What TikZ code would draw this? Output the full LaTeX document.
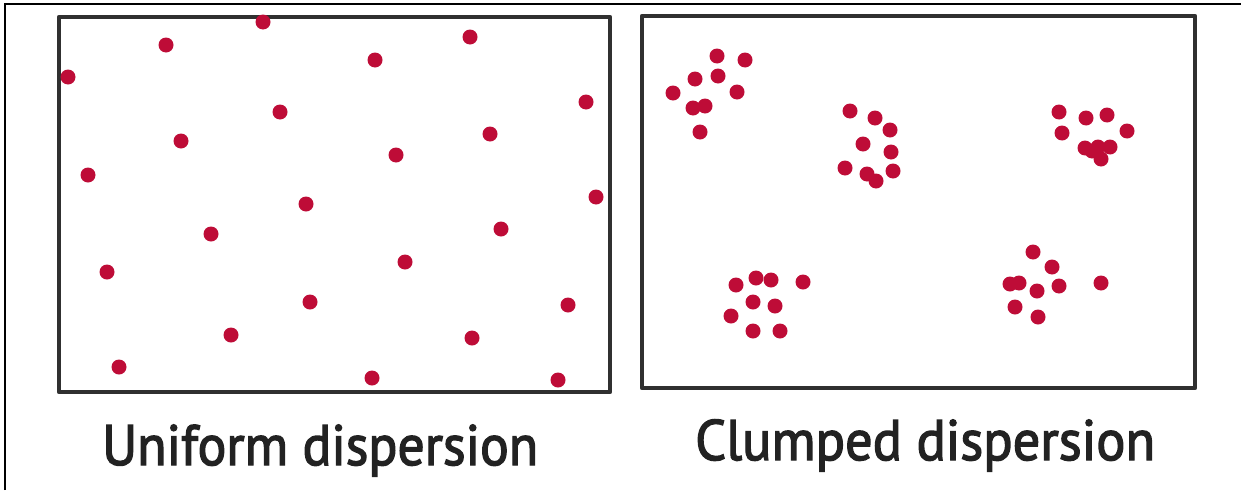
\documentclass[tikz,border=0pt]{standalone}
\usepackage{fontspec}
\setmainfont{PT Sans}
\newfontfamily\capfont[FakeBold=2.4]{PT Sans}
\usepackage{graphicx}
\definecolor{dotred}{RGB}{190,12,55}
\definecolor{boxgray}{RGB}{48,48,48}
\definecolor{txtgray}{RGB}{34,34,34}
\tikzset{
  panel/.style={draw=boxgray, line width=4.5pt, line join=round},
  frameline/.style={draw=black, line width=2.5pt},
  dotstyle/.style={fill=dotred},
  caption/.style={inner sep=0pt, text=txtgray, anchor=base west}
}
\begin{document}
\begin{tikzpicture}[x=1pt,y=-1pt]
\useasboundingbox (0,0) rectangle (1241,490);
\fill[white] (0,0) rectangle (1241,490);
% outer frame (left and top)
\draw[frameline] (5,490) -- (5,4) -- (1241,4);
% panels
\draw[panel] (59,17) rectangle (610,392);
\draw[panel] (642,16) rectangle (1195,388);
% uniform dots
\foreach \x/\y in {166/45, 263/22, 68/77, 375/60, 470/37, 586/102, 280/112,
  181/141, 490/134, 396/155, 88/175, 596/197, 306/204, 211/234, 501/229,
  107/272, 405/262, 310/302, 568/305, 231/335, 472/338, 119/367, 372/378, 558/380}
  \fill[dotstyle] (\x,\y) circle (7.5);
% clump 1
\foreach \x/\y in {717/56, 745/60, 695/79, 718/76, 673/93, 737/92, 693/108, 705/106, 700/132}
  \fill[dotstyle] (\x,\y) circle (7.5);
% clump 2
\foreach \x/\y in {850/111, 875/118, 890/130, 863/144, 891/152, 845/168, 867/174, 876/181, 893/171}
  \fill[dotstyle] (\x,\y) circle (7.5);
% clump 3
\foreach \x/\y in {1059/112, 1086/118, 1107/115, 1062/133, 1127/131, 1085/148, 1098/147, 1110/147, 1092/151, 1101/159}
  \fill[dotstyle] (\x,\y) circle (7.5);
% clump 4
\foreach \x/\y in {736/285, 756/278, 771/280, 803/282, 753/302, 775/306, 731/316, 753/331, 780/331}
  \fill[dotstyle] (\x,\y) circle (7.5);
% clump 5
\foreach \x/\y in {1033/252, 1052/267, 1010/284, 1019/283, 1037/291, 1059/286, 1015/307, 1038/317, 1101/283}
  \fill[dotstyle] (\x,\y) circle (7.5);
% captions
\node[caption] (uni) at (102,465) {\resizebox{436pt}{\height}{\capfont\fontsize{57}{60}\selectfont Uniform dispersion}};
\node[caption] (clu) at (695,460) {\resizebox{460pt}{\height}{\capfont\fontsize{57}{60}\selectfont Clumped dispersion}};
\end{tikzpicture}
\end{document}
